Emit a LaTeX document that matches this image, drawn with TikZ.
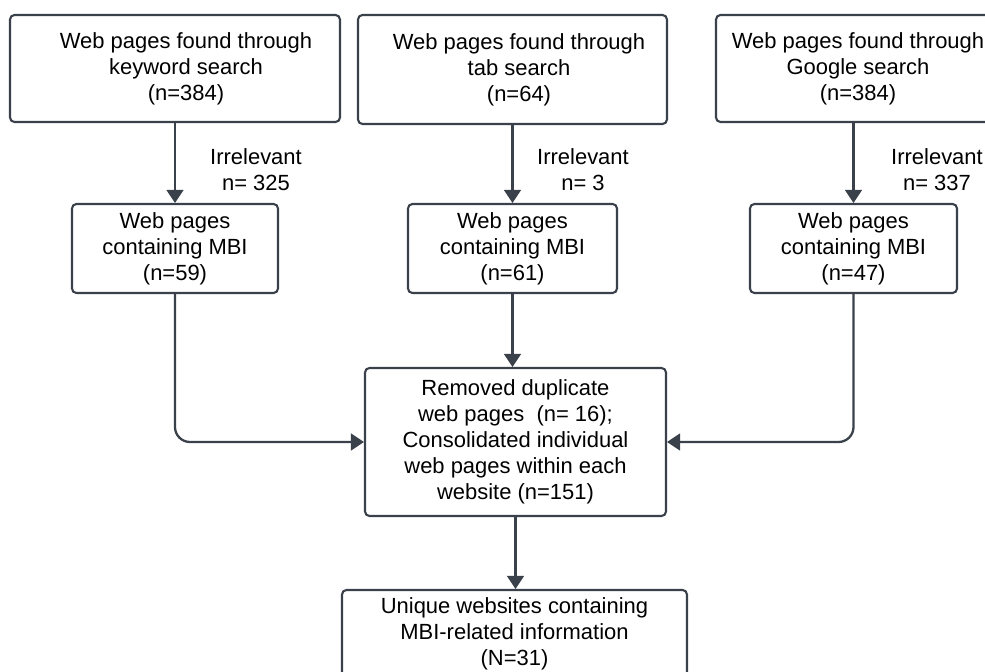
\documentclass[tikz,border=0pt]{standalone}
\usepackage{fontspec}
\setmainfont{Liberation Sans}
\usetikzlibrary{arrows.meta}
\definecolor{edgegray}{HTML}{3A414A}
\newcommand{\padl}[1]{\hspace*{#1}}
\begin{document}
\begin{tikzpicture}[x=0.02cm,y=-0.02cm,
  box/.style={draw=edgegray, line width=1.2pt, rounded corners=2.5pt, align=center, inner sep=0pt},
  link/.style={draw=edgegray, line width=1.3pt, -{Triangle[length=7.4pt,width=9.5pt]}},
  note/.style={align=center, inner sep=0pt}]
\fontsize{12.5}{14.8}\selectfont
\useasboundingbox (0,0) rectangle (985,672);
\node[box, minimum width=6.6cm, minimum height=2.14cm] (kw) at (175,68.5) {\padl{0.44cm}Web pages found through\\\padl{0.44cm}keyword search\\\padl{0.44cm}(n=384)};
\node[box, minimum width=6.18cm, minimum height=2.18cm] (tab) at (512.5,69.5) {\padl{0.26cm}Web pages found through\\\padl{0.26cm}tab search\\\padl{0.26cm}(n=64)};
\node[box, minimum width=5.68cm, minimum height=2.14cm] (goo) at (858,68.5) {Web pages found through\\Google search\\(n=384)};

\node[box, minimum width=4.12cm, minimum height=1.78cm] (kwm) at (175,248.5) {Web pages\\containing MBI\\(n=59)};
\node[box, minimum width=4.18cm, minimum height=1.78cm] (tabm) at (512.5,248.5) {Web pages\\containing MBI\\(n=61)};
\node[box, minimum width=4.14cm, minimum height=1.78cm] (goom) at (853.5,248.5) {Web pages\\containing MBI\\(n=47)};

\node[box, minimum width=6.02cm, minimum height=2.96cm] (dedup) at (515.5,442) {Removed duplicate\\web pages~~(n= 16);\\Consolidated individual\\web pages within each\\website (n=151)};
\node[box, minimum width=6.9cm, minimum height=1.76cm] (final) at (514.5,634) {Unique websites containing\\MBI-related information\\(N=31)};

\node[note] (irr1) at (256,170) {Irrelevant\\n= 325};
\node[note] (irr2) at (583,170) {Irrelevant\\n= 3};
\node[note] (irr3) at (937,170) {Irrelevant\\n= 337};

\path[link] (kw) -- (kwm);
\path[link] (tab) -- (tabm);
\path[link] (goom.north |- goo.south) -- (goom.north);

\path[link, rounded corners=0.3cm] (kwm.south) |- (dedup.west);
\path[link, rounded corners=0.3cm] (goom.south) |- (dedup.east);
\path[link] (tabm.south) -- (tabm.south |- dedup.north);
\path[link] (dedup.south) -- (dedup.south |- final.north);
\end{tikzpicture}
\end{document}
